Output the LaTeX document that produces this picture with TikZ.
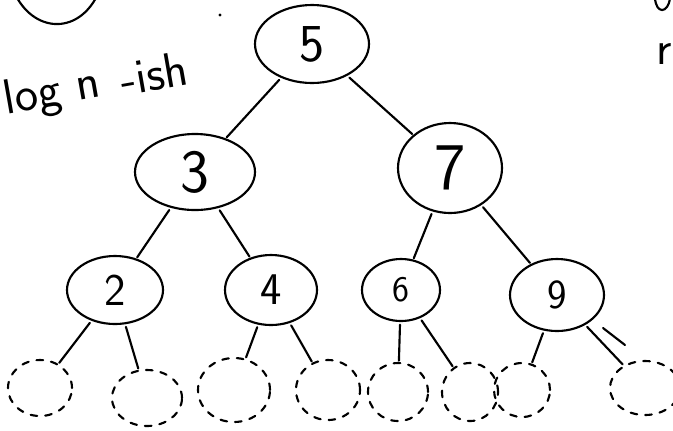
\documentclass[tikz,border=0pt]{standalone}
\usetikzlibrary{shapes.geometric}
\begin{document}
\begin{tikzpicture}[x=0.75pt,y=-0.75pt,
  line width=1.6pt, line cap=round,
  tnode/.style={draw, ellipse, inner sep=0pt, font=\sffamily\fontsize{40}{40}\selectfont},
  ghost/.style={draw, ellipse, inner sep=0pt, dash pattern=on 5pt off 6pt},
  edge/.style={shorten <=2pt, shorten >=1pt},
  note/.style={font=\sffamily\fontsize{37}{37}\selectfont, rotate=10, inner sep=0pt}]
\useasboundingbox (0,0) rectangle (673,430);
\clip (0,0) rectangle (673,430);
% main nodes
\node[tnode, minimum width=85.5pt, minimum height=58.5pt] (n5) at (312,44) {5};
\node[tnode, minimum width=90pt, minimum height=57pt, font=\sffamily\fontsize{46}{46}\selectfont] (n3) at (195,172) {3};
\node[tnode, minimum width=78pt, minimum height=67.5pt, font=\sffamily\fontsize{50}{50}\selectfont] (n7) at (450,168) {7};
\node[tnode, minimum width=72pt, minimum height=51pt, font=\sffamily\fontsize{34}{34}\selectfont] (n2) at (115,290) {2};
\node[tnode, minimum width=69pt, minimum height=52.5pt, font=\sffamily\fontsize{34}{34}\selectfont] (n4) at (271,290) {4};
\node[tnode, minimum width=58.5pt, minimum height=46.5pt, font=\sffamily\fontsize{27}{27}\selectfont] (n6) at (401,290) {6};
\node[tnode, minimum width=70.5pt, minimum height=54pt, font=\sffamily\fontsize{31}{31}\selectfont] (n9) at (557,295) {9};
% ghost leaves
\node[ghost, minimum width=48pt, minimum height=42pt] (d1) at (40,388) {};
\node[ghost, minimum width=52.5pt, minimum height=42pt] (d2) at (147,398) {};
\node[ghost, minimum width=54pt, minimum height=48pt] (d3) at (234,390) {};
\node[ghost, minimum width=48pt, minimum height=45pt] (d4) at (328,390) {};
\node[ghost, minimum width=45pt, minimum height=43.5pt] (d5) at (398,392) {};
\node[ghost, minimum width=42pt, minimum height=43.5pt] (d6) at (470,392) {};
\node[ghost, minimum width=42pt, minimum height=40.5pt] (d7) at (522,390) {};
\node[ghost, minimum width=52.5pt, minimum height=40.5pt] (d8) at (645,388) {};
% edges
\draw[edge] (n5) -- (n3);
\draw[edge] (n5) -- (n7);
\draw[edge] (n3) -- (n2);
\draw[edge] (n3) -- (n4);
\draw[edge] (n7) -- (n6);
\draw[edge] (n7) -- (n9);
\draw[edge] (n2) -- (d1);
\draw[edge] (n2) -- (d2);
\draw[edge] (n4) -- (d3);
\draw[edge] (n4) -- (d4);
\draw[edge] (n6) -- (d5);
\draw[edge] (n6) -- (d6);
\draw[edge] (n9) -- (d7);
\draw[edge] (n9) -- (d8);
\coordinate (s1) at (603,328);
\coordinate (s2) at (625,345);
\draw (s1) -- (s2);
% annotations
\node[note] (lg) at (33,98) {log};
\node[note] (ln) at (88,88) {n};
\node[note] (li) at (154,74) {-ish};
\draw (14,-8) .. controls (33,33) and (77,35) .. (97,-4);
\fill (220,15) circle (1.2pt);
\draw (655,-2) .. controls (656,14) and (668,14) .. (670,-2);
\node[font=\sffamily\fontsize{36}{36}\selectfont, anchor=base west, inner sep=0pt] (r) at (655,64) {r};
\end{tikzpicture}
\end{document}
